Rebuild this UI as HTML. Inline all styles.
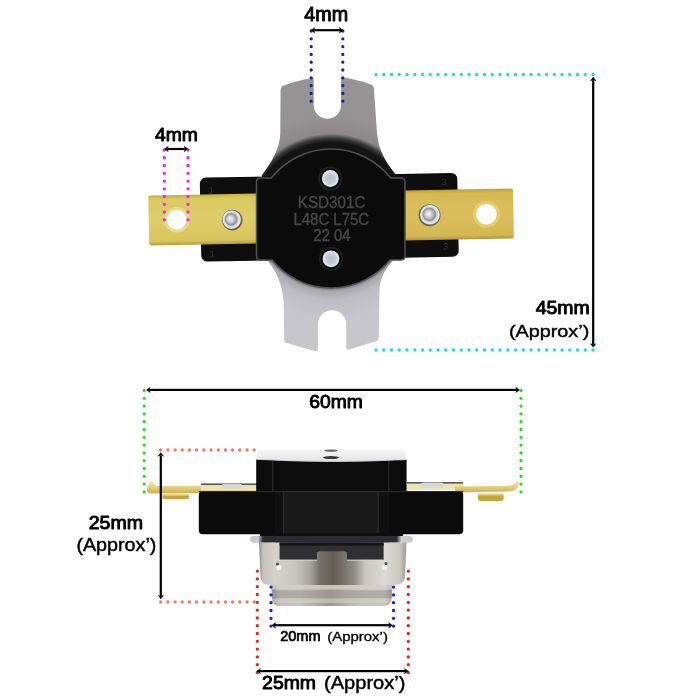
<!DOCTYPE html>
<html><head><meta charset="utf-8">
<style>
html,body{margin:0;padding:0;background:#fff;width:700px;height:700px;overflow:hidden}
svg{display:block;will-change:transform}
text{font-family:"Liberation Sans",sans-serif}
</style></head><body>
<svg width="700" height="700" viewBox="0 0 700 700">
<defs>
  <radialGradient id="brTop" gradientUnits="userSpaceOnUse" cx="331" cy="225" r="110">
    <stop offset="0" stop-color="#121212"/>
    <stop offset="0.75" stop-color="#141414"/>
    <stop offset="0.79" stop-color="#3a3a3a"/>
    <stop offset="0.83" stop-color="#8a8888"/>
    <stop offset="1" stop-color="#959393"/>
  </radialGradient>
  <radialGradient id="brBot" gradientUnits="userSpaceOnUse" cx="331" cy="212" r="110">
    <stop offset="0" stop-color="#111"/>
    <stop offset="0.68" stop-color="#606062"/>
    <stop offset="0.72" stop-color="#a8a8ae"/>
    <stop offset="0.8" stop-color="#bdbdc3"/>
    <stop offset="1" stop-color="#c6c6cc"/>
  </radialGradient>
  <linearGradient id="gold" x1="0" y1="0" x2="0" y2="1">
    <stop offset="0" stop-color="#c4ae40"/>
    <stop offset="0.08" stop-color="#dac860"/>
    <stop offset="0.5" stop-color="#dfcd6a"/>
    <stop offset="0.92" stop-color="#d8c45c"/>
    <stop offset="1" stop-color="#b89e38"/>
  </linearGradient>
  <linearGradient id="goldR" x1="0" y1="0" x2="0" y2="1">
    <stop offset="0" stop-color="#bfa038"/>
    <stop offset="0.08" stop-color="#d6ba54"/>
    <stop offset="0.5" stop-color="#d9bf5c"/>
    <stop offset="0.92" stop-color="#d4b752"/>
    <stop offset="1" stop-color="#b49430"/>
  </linearGradient>
  <radialGradient id="rivet" cx="0.5" cy="0.5" r="0.5" fx="0.4" fy="0.45">
    <stop offset="0" stop-color="#f4f6f8"/>
    <stop offset="0.35" stop-color="#c8ccd0"/>
    <stop offset="0.62" stop-color="#8e9296"/>
    <stop offset="0.75" stop-color="#d8dce0"/>
    <stop offset="0.92" stop-color="#e8eaec"/>
    <stop offset="1" stop-color="#a8aaa8"/>
  </radialGradient>
  <radialGradient id="screw" cx="0.5" cy="0.5" r="0.5">
    <stop offset="0" stop-color="#b8bec6"/>
    <stop offset="0.6" stop-color="#c8ced6"/>
    <stop offset="1" stop-color="#e8eef4"/>
  </radialGradient>
  <linearGradient id="capTop" x1="0" y1="0" x2="0" y2="1">
    <stop offset="0" stop-color="#f6f6f6"/>
    <stop offset="0.6" stop-color="#ececec"/>
    <stop offset="1" stop-color="#e0e0e0"/>
  </linearGradient>
  <linearGradient id="cup" x1="0" y1="0" x2="1" y2="0">
    <stop offset="0" stop-color="#8c8a84"/>
    <stop offset="0.027" stop-color="#c4c2ba"/>
    <stop offset="0.108" stop-color="#d4d2ca"/>
    <stop offset="0.244" stop-color="#c8c6be"/>
    <stop offset="0.346" stop-color="#a8a69c"/>
    <stop offset="0.414" stop-color="#747068"/>
    <stop offset="0.502" stop-color="#645e56"/>
    <stop offset="0.583" stop-color="#7a746c"/>
    <stop offset="0.651" stop-color="#929088"/>
    <stop offset="0.72" stop-color="#c8c6be"/>
    <stop offset="0.855" stop-color="#dcdad2"/>
    <stop offset="0.957" stop-color="#c8c6be"/>
    <stop offset="1" stop-color="#9a9890"/>
  </linearGradient>
  <linearGradient id="rim" x1="0" y1="0" x2="1" y2="0">
    <stop offset="0" stop-color="#c0c4cc"/>
    <stop offset="0.05" stop-color="#c8ccd4"/>
    <stop offset="0.08" stop-color="#2a2c30"/>
    <stop offset="0.9" stop-color="#2a2c30"/>
    <stop offset="0.93" stop-color="#d0d0d4"/>
    <stop offset="1" stop-color="#c8c8cc"/>
  </linearGradient>
  <linearGradient id="cup2" x1="0" y1="0" x2="1" y2="0">
    <stop offset="0" stop-color="#8c8a84"/>
    <stop offset="0.07" stop-color="#c0beb6"/>
    <stop offset="0.237" stop-color="#c4c2ba"/>
    <stop offset="0.486" stop-color="#9c988e"/>
    <stop offset="0.734" stop-color="#c4c2ba"/>
    <stop offset="0.942" stop-color="#c8c6be"/>
    <stop offset="1" stop-color="#8c8a84"/>
  </linearGradient>
  <linearGradient id="goldSide" x1="0" y1="0" x2="0" y2="1">
    <stop offset="0" stop-color="#f4eab8"/>
    <stop offset="0.45" stop-color="#e6d488"/>
    <stop offset="1" stop-color="#cdb152"/>
  </linearGradient>
</defs>

<!-- ============ TOP VIEW ============ -->
<path d="M280.6,90 Q280.6,86.6 284,85.4 Q297,80.5 313.7,77.8 L313.7,105 A13.7,13.7 0 0 0 341.1,105 L341.1,77.3 Q358,79.5 370.6,84.4 Q373.9,85.6 373.9,89 L377,133 C378.5,150 385,161 396,175 L396,190 L262,190 L262,175 C272,162 280,148 280.3,133.6 Z" fill="url(#brTop)"/>
<path d="M262,250 L269.3,262.9 C277,272 283,288 283.6,302 L284.3,340.7 Q284.5,342.5 286.5,343 L315.5,351.3 Q317.9,351.5 317.9,349 L317.9,324.5 A14.2,14.2 0 0 1 346.3,324.5 L346.3,348 Q346.5,350 349,349.6 L376.5,341 Q378.6,340.5 378.8,338 L379.4,291.4 C379.8,280 384,270 392,262 L400,250 Z" fill="url(#brBot)"/>

<g transform="rotate(-1.1 331 217)">
  <rect x="200.5" y="175.2" width="257.5" height="84" rx="6" fill="#0e0e0e"/>
  <g fill="#343434" font-size="9.5" text-anchor="middle">
    <text x="211.5" y="191.5">1</text><text x="211.5" y="255">1</text>
    <text x="445" y="187.5">3</text><text x="445" y="252">3</text>
  </g>
  <path d="M151,192 L258,192 L258,242 L151,242 Q148.7,242 148.7,239.7 L148.7,194.3 Q148.7,192 151,192 Z" fill="url(#gold)"/>
  <circle cx="176.7" cy="216.8" r="12.8" fill="#e8dc8c"/>
  <circle cx="176.7" cy="216.8" r="9.8" fill="#ffffff"/>
  <circle cx="232.2" cy="218.2" r="10.4" fill="#6a6450"/>
  <circle cx="231.7" cy="217.7" r="9.4" fill="url(#rivet)"/>
  <path d="M404,192 L511,192 Q513.5,192 513.5,194.3 L513.5,239.7 Q513.5,242 511,242 L404,242 Z" fill="url(#goldR)"/>
  <circle cx="486.4" cy="217.2" r="13.5" fill="#e4cc70"/>
  <circle cx="486.4" cy="217.2" r="10.3" fill="#ffffff"/>
  <circle cx="429.6" cy="217.1" r="11" fill="#6a6458"/>
  <circle cx="430" cy="216.6" r="10" fill="url(#rivet)"/>
</g>

<path d="M256.5,182 Q256.5,178 260.5,178 L271.3,178 A76,76 0 0 1 390.7,178 L401,178 Q405,178 405,182 L405,256 Q405,260 401,260 L389.9,260 A76,76 0 0 1 272.1,260 L260.5,260 Q256.5,260 256.5,256 Z" fill="#0b0b0b" stroke="#505050" stroke-width="1.5"/>
<g fill="#464a46" stroke="#464a46" stroke-width="0.35">
<text x="331.6" y="207.9" font-size="16.8" text-anchor="middle" textLength="67.5" lengthAdjust="spacingAndGlyphs">KSD301C</text>
<text x="331.3" y="225.1" font-size="16.8" text-anchor="middle" textLength="75.8" lengthAdjust="spacingAndGlyphs">L48C L75C</text>
<text x="332" y="241.3" font-size="16.8" text-anchor="middle" textLength="37.3" lengthAdjust="spacingAndGlyphs">22 04</text>
</g>
<circle cx="330.3" cy="178.5" r="12" fill="#1e2222"/>
<circle cx="330.3" cy="178.5" r="10.2" fill="#050505"/>
<circle cx="330.3" cy="178.5" r="8.4" fill="url(#screw)"/>
<circle cx="331" cy="258.8" r="12" fill="#1e2222"/>
<circle cx="331" cy="258.8" r="10.2" fill="#050505"/>
<circle cx="331" cy="258.8" r="8.4" fill="url(#screw)"/>

<!-- ============ TOP VIEW DIMENSIONS ============ -->
<g stroke-linecap="round" fill="none">
  <line x1="311.2" y1="31" x2="311.2" y2="102" stroke="#1c1caa" stroke-width="3.3" stroke-dasharray="0 7.8"/>
  <line x1="342.8" y1="31" x2="342.8" y2="102" stroke="#1c1caa" stroke-width="3.3" stroke-dasharray="0 7.8"/>
  <line x1="164.3" y1="150" x2="164.3" y2="221" stroke="#f01cf0" stroke-width="3.3" stroke-dasharray="0 7.76"/>
  <line x1="188" y1="150" x2="188" y2="221" stroke="#f01cf0" stroke-width="3.3" stroke-dasharray="0 7.76"/>
  <line x1="376" y1="74.5" x2="594" y2="74.5" stroke="#00e4f0" stroke-width="3.3" stroke-dasharray="0 7.75"/>
  <line x1="376" y1="350" x2="594" y2="350" stroke="#00e4f0" stroke-width="3.3" stroke-dasharray="0 7.75"/>
</g>
<g fill="#000" stroke="none">
  <rect x="314.20" y="29.10" width="25.70" height="2.2"/>
  <path d="M310.80,30.20 L315.00,27.00 L314.20,30.20 L315.00,33.40 Z"/>
  <path d="M343.30,30.20 L339.10,27.00 L339.90,30.20 L339.10,33.40 Z"/>
  <rect x="167.70" y="147.90" width="17.10" height="2.2"/>
  <path d="M164.30,149.00 L168.50,145.80 L167.70,149.00 L168.50,152.20 Z"/>
  <path d="M188.20,149.00 L184.00,145.80 L184.80,149.00 L184.00,152.20 Z"/>
  <rect x="592.10" y="80.20" width="2.2" height="264.00"/>
  <path d="M593.20,76.80 L590.00,81.00 L593.20,80.20 L596.40,81.00 Z"/>
  <path d="M593.20,347.60 L590.00,343.40 L593.20,344.20 L596.40,343.40 Z"/>
</g>
<text x="326.2" y="21.4" font-size="19.8" stroke="#000" stroke-width="0.95" stroke-linejoin="round" text-anchor="middle" textLength="43.8" lengthAdjust="spacingAndGlyphs">4mm</text>
<text x="176.5" y="141.4" font-size="18.5" stroke="#000" stroke-width="0.93" stroke-linejoin="round" text-anchor="middle" textLength="43" lengthAdjust="spacingAndGlyphs">4mm</text>
<text x="589.7" y="314.3" font-size="18.6" stroke="#000" stroke-width="0.93" stroke-linejoin="round" text-anchor="end" textLength="54" lengthAdjust="spacingAndGlyphs">45mm</text>
<text stroke="#000" stroke-width="0.41" x="589.3" y="336.7" font-size="16.5" text-anchor="end" textLength="80.4" lengthAdjust="spacingAndGlyphs">(Approx’)</text>

<!-- ============ SIDE VIEW ============ -->
<path d="M147,491 Q146,487 149,484 Q150,481 151.5,480.5 Q154,482 156,486 L262,485.5 L262,492.8 L152,493.5 Q147.5,493.5 147,491 Z" fill="url(#goldSide)"/>
<rect x="201" y="483.4" width="56" height="1.8" fill="#5a5a5a"/>
<rect x="201" y="485.2" width="56" height="5.5" fill="#ece2b4"/>
<path d="M162.5,495 L189,495 L189,497.5 Q189,499.3 186.5,499.3 L165,499.3 Q162.5,499.3 162.5,497.5 Z" fill="#c6a43c"/>
<rect x="162.5" y="494.2" width="26.5" height="1.6" fill="#e4cc78"/>
<rect x="407" y="482" width="56" height="1.8" fill="#5a5a5a"/>
<rect x="407" y="483.8" width="56" height="6" fill="#ece2b4"/>
<path d="M455,486.6 L508,485.8 Q513.5,485.5 515.5,482 Q517,480.2 518.5,481 Q519.5,484 517.5,488 Q515,491.3 508,491.5 L455,492.5 Z" fill="url(#goldSide)"/>
<path d="M478,495 L503.6,495 L503.6,499 Q503.6,501 501,501 L480.5,501 Q478,501 478,499 Z" fill="#c6a43c"/>
<rect x="478" y="493.4" width="25.6" height="2" fill="#e8d27e"/>
<rect x="221.7" y="484" width="20.3" height="4.6" rx="2" fill="#d6d6d6"/>
<rect x="421" y="482.5" width="22.6" height="5.3" rx="2" fill="#d6d6d6"/>
<!-- upper cap -->
<path d="M256.2,459.3 Q331,463.5 406.6,459.6 L406.6,493.5 L256.2,493.5 Z" fill="#0c0c0c"/>
<path d="M258,449.5 L405,449.5 L406.6,459.6 Q331,463.5 256.2,459.3 Z" fill="url(#capTop)"/>
<path d="M256.2,459.3 Q331,463.5 406.6,459.6" fill="none" stroke="#c8d0d8" stroke-width="0.8"/>
<rect x="272" y="461" width="1.5" height="31" fill="#262626"/>
<rect x="388" y="461" width="1.5" height="31" fill="#262626"/>
<ellipse cx="331" cy="450.6" rx="7" ry="1.2" fill="#6a6a6a"/>
<ellipse cx="331" cy="457.6" rx="8" ry="1.5" fill="#3a3a3a"/>
<!-- lower housing -->
<rect x="198.8" y="491" width="264.4" height="43.2" rx="4" fill="#0b0b0b"/>
<rect x="275" y="491" width="114" height="56" fill="#101010"/>
<rect x="284" y="491" width="94" height="56" fill="#181818"/>
<rect x="283" y="491" width="1.4" height="56" fill="#2c2c2c"/>
<rect x="377.5" y="491" width="1.4" height="56" fill="#2c2c2c"/>
<rect x="198.8" y="491" width="264.4" height="1.2" fill="#2a2a2a"/>
<!-- cup -->
<rect x="260" y="533" width="143" height="5" fill="#0e0e0e"/>
<path d="M253,536 L409.5,536 Q412.7,536.5 412.7,539 Q412.7,542.8 409,542.8 L254,542.8 Q250,542.8 250,539 Q250,536.5 253,536 Z" fill="url(#rim)"/>
<path d="M259,542.6 L406.4,542.6 L405,577 Q404.5,584.5 395,585 L268,585 Q261,584 260.5,577 Z" fill="url(#cup)"/>
<path d="M279.6,542.6 L383.6,542.6 L383.6,559.7 L347,559.7 L347,554 Q347,551.3 344,551.3 L320,551.3 Q317,551.3 317,554 L317,559.7 L279.6,559.7 Z" fill="#303033"/>
<rect x="279.6" y="542.6" width="104" height="3" fill="#151515"/>
<line x1="279.6" y1="560.2" x2="317" y2="560.2" stroke="#d8d8d8" stroke-width="0.9"/>
<line x1="347" y1="560.2" x2="383.6" y2="560.2" stroke="#d8d8d8" stroke-width="0.9"/>
<circle cx="279" cy="567.4" r="2.6" fill="#f2f2f2"/>
<circle cx="277.5" cy="564" r="1.6" fill="#555"/>
<circle cx="384.5" cy="567.4" r="2.6" fill="#f2f2f2"/>
<circle cx="386" cy="563.5" r="1.6" fill="#555"/>
<path d="M271.5,585 L392,585 L391.5,599 Q390.5,606 383,606 L280,606 Q272.5,606 272,599 Z" fill="url(#cup2)"/>
<rect x="272" y="585" width="120" height="4.5" fill="#d6d2ca" opacity="0.75"/>
<rect x="272" y="590.5" width="120" height="7.5" fill="#9c9890" opacity="0.55"/>
<rect x="272" y="598.5" width="120" height="4.5" fill="#d4d0c8" opacity="0.6"/>

<!-- ============ SIDE VIEW DIMENSIONS ============ -->
<g stroke-linecap="round" fill="none">
  <line x1="144.2" y1="390.5" x2="144.2" y2="493" stroke="#22e022" stroke-width="3.3" stroke-dasharray="0 7.8"/>
  <line x1="521" y1="390.5" x2="521" y2="493" stroke="#22e022" stroke-width="3.3" stroke-dasharray="0 7.8"/>
  <line x1="160.7" y1="450" x2="255" y2="450" stroke="#f87858" stroke-width="3.3" stroke-dasharray="0 7.19"/>
  <line x1="160.7" y1="602" x2="255" y2="602" stroke="#f87858" stroke-width="3.3" stroke-dasharray="0 7.19"/>
  <line x1="257.3" y1="571.1" x2="257.3" y2="672.5" stroke="#f01c1c" stroke-width="3.3" stroke-dasharray="0 7.8"/>
  <line x1="408.3" y1="571.1" x2="408.3" y2="672.5" stroke="#f01c1c" stroke-width="3.3" stroke-dasharray="0 7.8"/>
  <line x1="271" y1="587.1" x2="271" y2="626.5" stroke="#1c1cf0" stroke-width="3.3" stroke-dasharray="0 7.8"/>
  <line x1="393.5" y1="587.1" x2="393.5" y2="626.5" stroke="#1c1cf0" stroke-width="3.3" stroke-dasharray="0 7.8"/>
</g>
<g fill="#000" stroke="none">
  <rect x="149.60" y="388.80" width="366.80" height="2.2"/>
  <path d="M146.20,389.90 L150.40,386.70 L149.60,389.90 L150.40,393.10 Z"/>
  <path d="M519.80,389.90 L515.60,386.70 L516.40,389.90 L515.60,393.10 Z"/>
  <rect x="159.70" y="455.60" width="2.2" height="140.30"/>
  <path d="M160.80,452.20 L157.60,456.40 L160.80,455.60 L164.00,456.40 Z"/>
  <path d="M160.80,599.30 L157.60,595.10 L160.80,595.90 L164.00,595.10 Z"/>
  <rect x="275.00" y="624.10" width="114.20" height="2.2"/>
  <path d="M271.60,625.20 L275.80,622.00 L275.00,625.20 L275.80,628.40 Z"/>
  <path d="M392.60,625.20 L388.40,622.00 L389.20,625.20 L388.40,628.40 Z"/>
  <rect x="259.90" y="670.00" width="145.20" height="2.2"/>
  <path d="M256.50,671.10 L260.70,667.90 L259.90,671.10 L260.70,674.30 Z"/>
  <path d="M408.50,671.10 L404.30,667.90 L405.10,671.10 L404.30,674.30 Z"/>
</g>
<text x="336.1" y="408.1" font-size="19.2" stroke="#000" stroke-width="0.96" stroke-linejoin="round" text-anchor="middle" textLength="53.6" lengthAdjust="spacingAndGlyphs">60mm</text>
<text x="115.9" y="528.6" font-size="18.6" stroke="#000" stroke-width="0.93" stroke-linejoin="round" text-anchor="middle" textLength="54.5" lengthAdjust="spacingAndGlyphs">25mm</text>
<text stroke="#000" stroke-width="0.44" x="116.4" y="551.4" font-size="17.5" text-anchor="middle" textLength="80" lengthAdjust="spacingAndGlyphs">(Approx’)</text>
<text x="280.2" y="640.6" font-size="13.8" stroke="#000" stroke-width="0.69" stroke-linejoin="round" textLength="40.3" lengthAdjust="spacingAndGlyphs">20mm</text>
<text stroke="#000" stroke-width="0.32" x="327.2" y="640.6" font-size="12.8" textLength="60.7" lengthAdjust="spacingAndGlyphs">(Approx’)</text>
<text x="262.1" y="688.7" font-size="18.3" stroke="#000" stroke-width="0.92" stroke-linejoin="round" textLength="53.9" lengthAdjust="spacingAndGlyphs">25mm</text>
<text stroke="#000" stroke-width="0.46" x="324" y="688.7" font-size="18.3" textLength="81.4" lengthAdjust="spacingAndGlyphs">(Approx’)</text>
</svg>
</body></html>
